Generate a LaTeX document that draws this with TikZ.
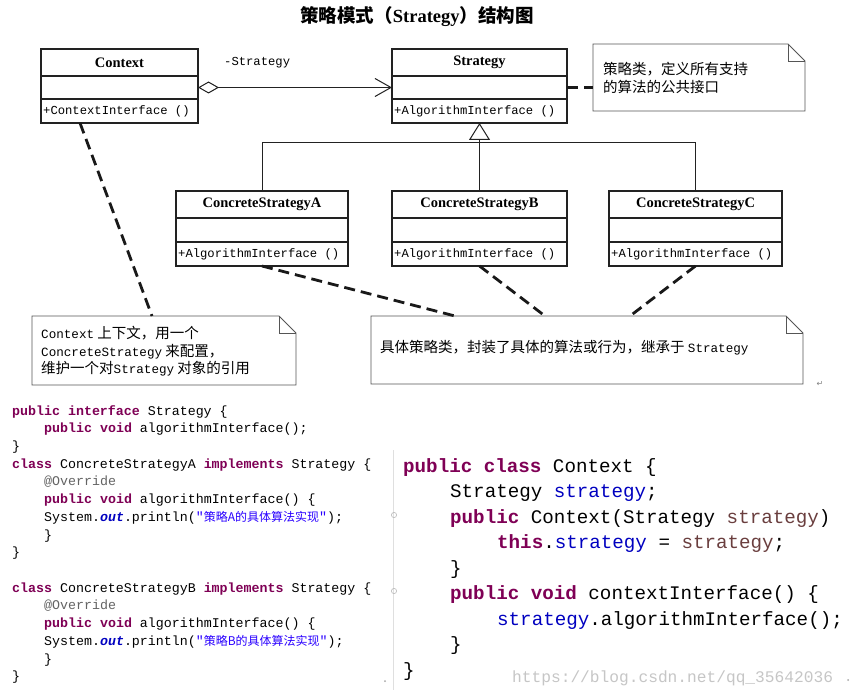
\documentclass[tikz,border=0pt]{standalone}
\usepackage{fontspec}
\setmainfont{Liberation Serif}
\setmonofont{Liberation Mono}
\newfontfamily\cjk{Noto Sans CJK SC}
\newfontfamily\dejavu{DejaVu Sans}
\usetikzlibrary{arrows.meta,calc}
\definecolor{kw}{HTML}{7F0055}
\definecolor{fld}{HTML}{0000C0}
\definecolor{par}{HTML}{6A3E3E}
\definecolor{ann}{HTML}{646464}
\definecolor{str}{HTML}{2A00FF}
\definecolor{boxline}{HTML}{222222}
\definecolor{noteline}{HTML}{555555}
\newcommand\foldnote[2]{%
  \draw[noteframe] (#1.north west) -- ($(#1.north east)+(-#2,0)$) -- ($(#1.north east)+(0,#2)$) -- (#1.south east) -- (#1.south west) -- cycle;
  \draw[noteframe] ($(#1.north east)+(-#2,0)$) -- ($(#1.north east)+(-#2,#2)$) -- ($(#1.north east)+(0,#2)$);}
\newcommand\kwd[1]{{\color{kw}\bfseries #1}}
\newcommand\nlat[1]{{\fontsize{12.6}{14}\ttfamily #1}}
\begin{document}
\begin{tikzpicture}[x=1pt,y=-1pt,
  umlbox/.style={draw=boxline, line width=1.3pt, anchor=north west, inner sep=0pt, outer sep=0pt},
  hdr/.style={font=\fontsize{14.5}{16}\selectfont\bfseries},
  meth/.style={anchor=west, inner sep=2pt, font=\fontsize{12.2}{14}\ttfamily},
  noteframe/.style={draw=noteline, line width=0.9pt},
  notearea/.style={anchor=north west, inner sep=0pt, outer sep=0pt},
  ntext/.style={anchor=base west, inner sep=0pt, font=\fontsize{14.5}{18}\cjk},
  link/.style={line width=2.8pt, dash pattern=on 11pt off 6pt, black!90},
  codeL/.style={anchor=base west, inner sep=0pt, font=\fontsize{13.3}{16}\ttfamily},
  codeR/.style={anchor=base west, inner sep=0pt, font=\fontsize{19.2}{22}\ttfamily},
  thinline/.style={line width=1pt, draw=boxline}]
\useasboundingbox (0,0) rectangle (853,695);
\fill[white] (0,0) rectangle (853,695);

% title
\node[anchor=base, inner sep=0pt] (title) at (417,23) {{\fontsize{18.5}{20}\cjk\bfseries 策略模式（}{\fontsize{18.5}{20}\selectfont\bfseries Strategy}{\fontsize{18.5}{20}\cjk\bfseries ）结构图}};

% Context
\node[umlbox, minimum width=157pt, minimum height=27pt, hdr] (ctx) at (41,49) {Context};
\node[umlbox, minimum width=157pt, minimum height=23pt] (ctx-b) at (ctx.south west) {};
\node[umlbox, minimum width=157pt, minimum height=24pt] (ctx-m) at (ctx-b.south west) {};
\node[meth] (ctx-t) at (ctx-m.west) {+ContextInterface ()};

% Strategy
\node[umlbox, minimum width=175pt, minimum height=27pt, hdr] (st) at (392,49) {Strategy};
\node[umlbox, minimum width=175pt, minimum height=23pt] (st-b) at (st.south west) {};
\node[umlbox, minimum width=175pt, minimum height=24pt] (st-m) at (st-b.south west) {};
\node[meth] (st-t) at (st-m.west) {+AlgorithmInterface ()};

% Concrete A
\node[umlbox, minimum width=172pt, minimum height=27pt, hdr] (ca) at (176,191) {ConcreteStrategyA};
\node[umlbox, minimum width=172pt, minimum height=24pt] (ca-b) at (ca.south west) {};
\node[umlbox, minimum width=172pt, minimum height=24pt] (ca-m) at (ca-b.south west) {};
\node[meth] (ca-t) at (ca-m.west) {+AlgorithmInterface ()};

% Concrete B
\node[umlbox, minimum width=175pt, minimum height=27pt, hdr] (cb) at (392,191) {ConcreteStrategyB};
\node[umlbox, minimum width=175pt, minimum height=24pt] (cb-b) at (cb.south west) {};
\node[umlbox, minimum width=175pt, minimum height=24pt] (cb-m) at (cb-b.south west) {};
\node[meth] (cb-t) at (cb-m.west) {+AlgorithmInterface ()};

% Concrete C
\node[umlbox, minimum width=173pt, minimum height=27pt, hdr] (cc) at (609,191) {ConcreteStrategyC};
\node[umlbox, minimum width=173pt, minimum height=24pt] (cc-b) at (cc.south west) {};
\node[umlbox, minimum width=173pt, minimum height=24pt] (cc-m) at (cc-b.south west) {};
\node[meth] (cc-t) at (cc-m.west) {+AlgorithmInterface ()};

% aggregation
\draw[thinline, {Diamond[open,length=21pt,width=12pt,line width=1pt]}-{Straight Barb[length=16pt,width=18pt,line width=1pt]}] (ctx-b.east) -- (st-b.west);
\node[anchor=base west, inner sep=0pt, font=\fontsize{12.2}{14}\ttfamily] (agglabel) at (224,66) {-Strategy};

% inheritance
\coordinate (jn) at (479.5,143);
\draw[thinline] (ca.north) -- (ca.north |- jn) -- (cc.north |- jn) -- (cc.north);
\draw[thinline, -{Triangle[open,length=17pt,width=21pt,line width=1pt]}] (cb.north) -- (st-m.south);

% notes
\node[notearea, minimum width=212pt, minimum height=67pt] (n1) at (593,44) {};
\foldnote{n1}{17}
\node[ntext] (n1a) at (603,75) {策略类，定义所有支持};
\node[ntext] (n1b) at (603,93) {的算法的公共接口};

\node[notearea, minimum width=264pt, minimum height=69pt] (n2) at (32,316) {};
\foldnote{n2}{17}
\node[ntext] (n2a) at (41,338.5) {\nlat{Context} 上下文，用一个};
\node[ntext] (n2b) at (41,356) {\nlat{ConcreteStrategy} 来配置，};
\node[ntext] (n2c) at (41,373.5) {维护一个对\nlat{Strategy} 对象的引用};

\node[notearea, minimum width=432pt, minimum height=68pt] (n3) at (371,316) {};
\foldnote{n3}{17}
\node[ntext] (n3a) at (380,352.5) {具体策略类，封装了具体的算法或行为，继承于 \nlat{Strategy}};

% dashed links
\draw[link] (st-b.east) -- (n1.west |- st-b.east);
\draw[link] ($(ctx-m.south west)+(39,0)$) -- ($(n2.north west)+(120,0)$);
\draw[link] (ca-m.south) -- ($(n3.north west)+(84,0)$);
\draw[link] (cb-m.south) -- ($(n3.north west)+(174,0)$);
\draw[link] (cc-m.south) -- ($(n3.north west)+(259,0)$);

\node[anchor=center, inner sep=0pt, text=gray, font=\fontsize{8}{9}\dejavu] (ret) at (820,384) {↵};

% left code
\node[codeL] (l0) at (12,415) {\kwd{public interface} Strategy \{};
\node[codeL] (l1) at (44,432.7) {\kwd{public void} algorithmInterface();};
\node[codeL] (l2) at (12,450.4) {\}};
\node[codeL] (l3) at (12,468.2) {\kwd{class} ConcreteStrategyA \kwd{implements} Strategy \{};
\node[codeL] (l4) at (44,485.9) {{\color{ann}@Override}};
\node[codeL] (l5) at (44,503.6) {\kwd{public void} algorithmInterface() \{};
\node[codeL] (l6) at (44,521.3) {System.{\color{fld}\bfseries\itshape out}.println({\color{str}"{\fontsize{12}{14}\cjk 策略A的具体算法实现}"});};
\node[codeL] (l7) at (44,539.0) {\}};
\node[codeL] (l8) at (12,556.8) {\}};
\node[codeL] (l10) at (12,592.2) {\kwd{class} ConcreteStrategyB \kwd{implements} Strategy \{};
\node[codeL] (l11) at (44,609.9) {{\color{ann}@Override}};
\node[codeL] (l12) at (44,627.6) {\kwd{public void} algorithmInterface() \{};
\node[codeL] (l13) at (44,645.4) {System.{\color{fld}\bfseries\itshape out}.println({\color{str}"{\fontsize{12}{14}\cjk 策略B的具体算法实现}"});};
\node[codeL] (l14) at (44,663.1) {\}};
\node[codeL] (l15) at (12,680.8) {\}};

% right code
\node[codeR] (r0) at (403,472) {\kwd{public class} Context \{};
\node[codeR] (r1) at (450,497.5) {Strategy {\color{fld}strategy};};
\node[codeR] (r2) at (450,523) {\kwd{public} Context(Strategy {\color{par}strategy})};
\node[codeR] (r3) at (497,548.5) {\kwd{this}.{\color{fld}strategy} = {\color{par}strategy};};
\node[codeR] (r4) at (450,574) {\}};
\node[codeR] (r5) at (450,599.5) {\kwd{public void} contextInterface() \{};
\node[codeR] (r6) at (497,625) {{\color{fld}strategy}.algorithmInterface();};
\node[codeR] (r7) at (450,650.5) {\}};
\node[codeR] (r8) at (403,676) {\}};

% editor details
\draw[gray!25, line width=0.8pt] (393,450) -- (393,690);
\draw[gray!55, line width=0.6pt] (394,515) circle (2.6);
\draw[gray!55, line width=0.6pt] (394,591) circle (2.6);
\fill[gray!70] (385,681) circle (1);
\fill[gray!70] (848,680) circle (1);
\node[anchor=base west, inner sep=0pt, text=gray!45, font=\fontsize{16.2}{18}\ttfamily] (wm) at (512,682) {https://blog.csdn.net/qq\_35642036};
\end{tikzpicture}
\end{document}
